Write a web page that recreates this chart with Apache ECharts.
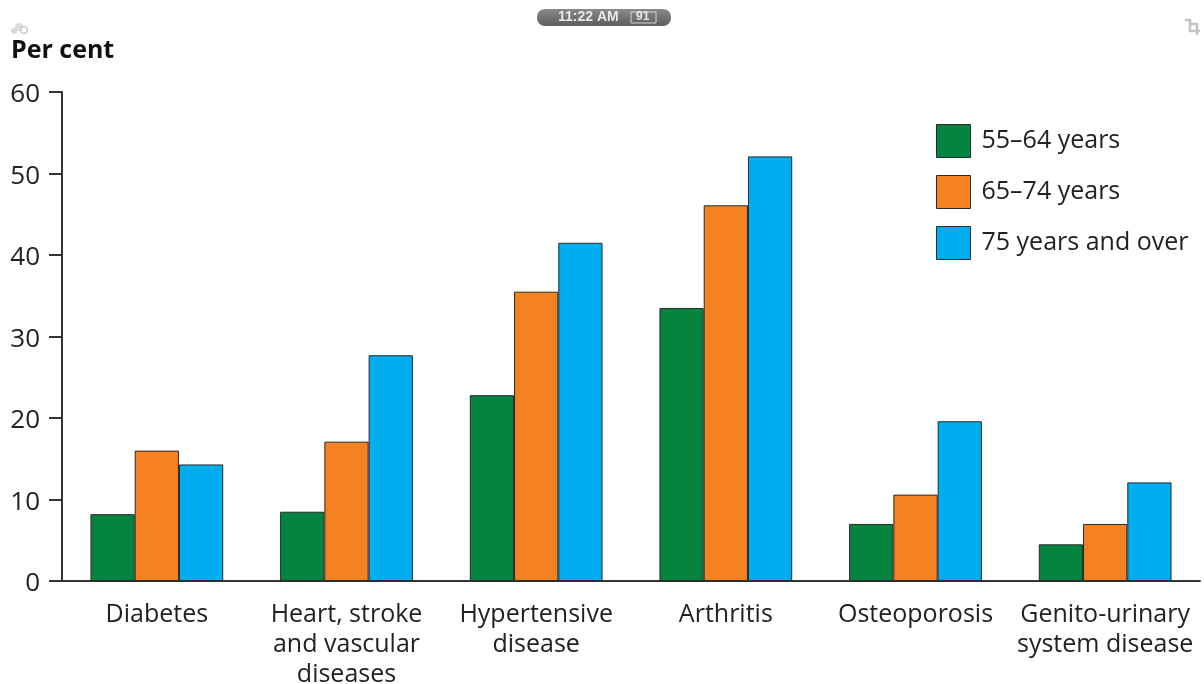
<!DOCTYPE html>
<html lang="en">
<head>
  <meta charset="UTF-8">
  <title>Per cent by age group</title>
  <style>
    html,body{margin:0;padding:0;background:#fff;}
    #main{width:1204px;height:684px;}
  </style>
</head>
<body>
  <div id="main"></div>
  <script src="https://cdn.jsdelivr.net/npm/echarts@6/dist/echarts.min.js"></script>
  <script>
    const categories=['Diabetes','Heart, stroke\nand vascular\ndiseases','Hypertensive\ndisease','Arthritis','Osteoporosis','Genito-urinary\nsystem disease'];
    const age55=[8.2,8.5,22.8,33.5,7,4.5];
    const age65=[16,17.1,35.5,46.1,10.6,7];
    const age75=[14.3,27.7,41.5,52.1,19.6,12.1];
    const seriesNames=['55–64 years','65–74 years','75 years and over'];
    const colors=['#05843f','#f58220','#00aeef'];
    const font='"Open Sans"';

    const chart=echarts.init(document.querySelector('#main'));
    const makeBar=(name,data,color)=>({
      name:name,
      type:'bar',
      data:data,
      barGap:0,
      barCategoryGap:'30%',
      itemStyle:{color:color,borderColor:'#2a2a2a',borderWidth:1}
    });
    chart.setOption({
      animation:false,
      grid:{left:62,right:4,top:92,bottom:103,outerBoundsMode:'none'},
      legend:{
        orient:'vertical',
        left:936,
        top:124,
        padding:0,
        itemWidth:34,
        itemHeight:33,
        itemGap:17,
        icon:'rect',
        itemStyle:{borderColor:'#2a2a2a',borderWidth:1},
        textStyle:{fontFamily:font,fontSize:25,lineHeight:33,color:'#222',padding:[0,0,0,6]},
        data:seriesNames
      },
      xAxis:{
        type:'category',
        data:categories,
        axisLine:{lineStyle:{color:'#333',width:2}},
        axisTick:{show:false},
        axisLabel:{interval:0,margin:19,fontFamily:font,fontSize:25,lineHeight:30,color:'#222',align:'center'}
      },
      yAxis:{
        type:'value',
        min:0,
        max:60,
        interval:10,
        splitLine:{show:false},
        axisLine:{show:true,lineStyle:{color:'#333',width:2}},
        axisTick:{show:true,length:13,lineStyle:{color:'#333',width:2}},
        axisLabel:{margin:22,fontFamily:font,fontSize:26,color:'#222',verticalAlign:'top',lineHeight:6}
      },
      series:[
        makeBar(seriesNames[0],age55,colors[0]),
        makeBar(seriesNames[1],age65,colors[1]),
        makeBar(seriesNames[2],age75,colors[2])
      ],
      graphic:[
        {type:'text',left:11,top:38,style:{text:'Per cent',fontFamily:font,fontWeight:'bold',fontSize:25,fill:'#111'}},
        {type:'rect',shape:{x:537,y:9,width:134,height:17,r:8},style:{fill:new echarts.graphic.LinearGradient(0,0,0,1,[{offset:0,color:'#8a8a8a'},{offset:1,color:'#5c5c5c'}])}},
        {type:'text',left:558,top:10,style:{text:'11:22 AM',fontFamily:'Liberation Sans',fontWeight:'bold',fontSize:14,fill:'#e8e8e8'}},
        {type:'rect',shape:{x:631,y:12,width:25,height:11},style:{fill:'none',stroke:'#d5d5d5',lineWidth:1}},
        {type:'text',left:636,top:11,style:{text:'91',fontFamily:'Liberation Sans',fontWeight:'bold',fontSize:12,fill:'#e8e8e8'}},
        {type:'circle',shape:{cx:14,cy:31,r:3},style:{fill:'#d8d8d8'}},
        {type:'circle',shape:{cx:19,cy:27,r:4},style:{fill:'#dedede'}},
        {type:'circle',shape:{cx:24,cy:30,r:3.5},style:{fill:'#fff',stroke:'#aaa',lineWidth:1}},
        {type:'polyline',shape:{points:[[1185,20],[1190,20],[1190,31],[1200,31]]},style:{fill:'none',stroke:'#c4c4c4',lineWidth:2.5}},
        {type:'polyline',shape:{points:[[1190,24],[1197,24],[1197,35]]},style:{fill:'none',stroke:'#c4c4c4',lineWidth:2.5}}
      ]
    });
  </script>
</body>
</html>
